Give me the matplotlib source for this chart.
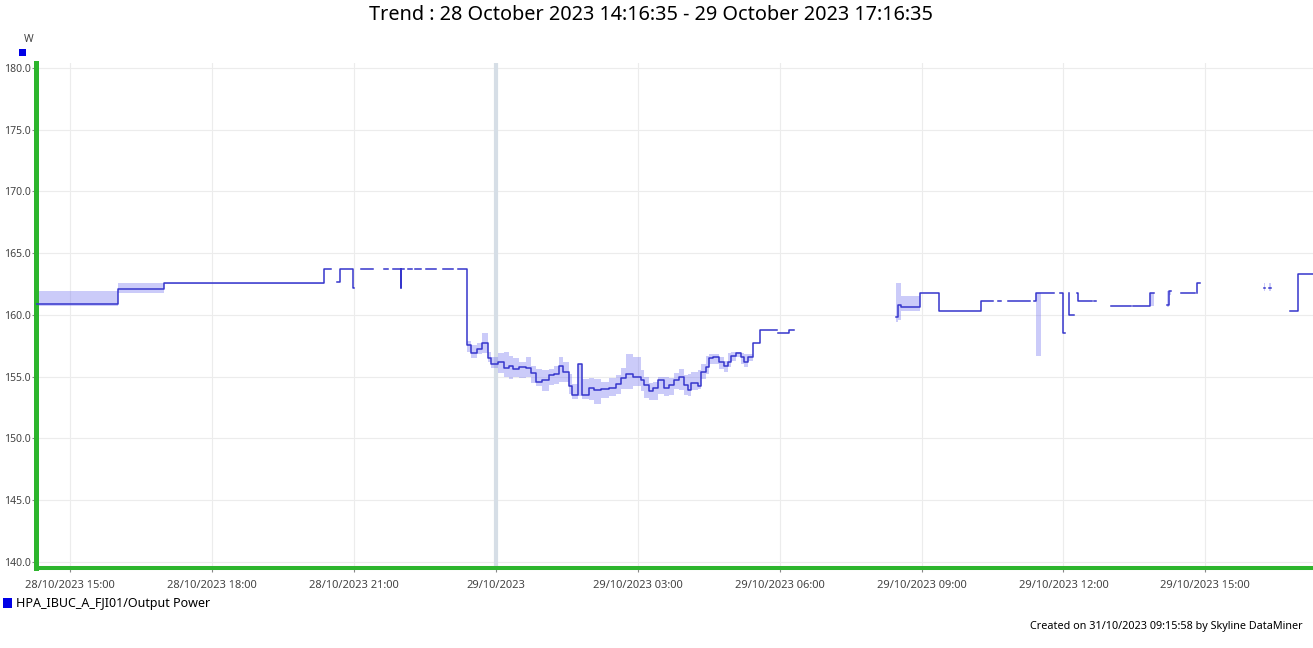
import datetime as dt
import matplotlib
matplotlib.use("Agg")
import matplotlib.pyplot as plt
import matplotlib.dates as mdates
from matplotlib.patches import Rectangle
from matplotlib.ticker import FuncFormatter, FormatStrFormatter
import numpy as np

plt.rcParams['font.family'] = ['Noto Sans', 'DejaVu Sans']

nan = np.nan

# hours since 28/10/2023 00:00, nan entries mark the start of a gap in the trend
hours = [14.28, 16.01, 16.99, 20.37, 20.51, 20.64, 20.70, 20.97, 21.00, 21.15,
         21.40, 21.63, 21.72, 21.82, 21.99, 22.00, 22.05, 22.14, 22.22, 22.30,
         22.42, 22.52, 22.73, 22.88, 23.09, 23.20,
         23.39, 23.47, 23.60, 23.70, 23.83, 23.90, 24.04, 24.17, 24.28, 24.36,
         24.49, 24.63, 24.74, 24.85, 24.97, 25.12, 25.23, 25.33, 25.42, 25.54,
         25.61, 25.73, 25.82, 25.97, 26.07, 26.22, 26.39, 26.54, 26.64, 26.75,
         26.90, 27.06, 27.13, 27.23, 27.32, 27.42, 27.55, 27.66, 27.76, 27.87,
         27.97, 28.06, 28.12, 28.27, 28.33, 28.44, 28.50, 28.59, 28.71, 28.82,
         28.90, 28.97, 29.07, 29.18, 29.24, 29.33, 29.43, 29.58, 29.94, 29.96,
         30.19, 30.30,
         32.45, 32.50, 32.56, 32.96, 33.36, 34.25, 34.52, 34.61, 34.67, 34.82,
         35.30, 35.37, 35.41, 35.52, 35.79, 35.93, 35.98, 36.03, 36.11, 36.12,
         36.23, 36.29, 36.31, 36.61, 36.65, 36.69, 37.00, 37.43, 37.47, 37.84,
         37.92, 38.18, 38.23, 38.27, 38.49, 38.79, 38.82, 38.83, 38.88, 40.23,
         40.26, 40.35, 40.38, 40.80, 40.95, 41.27]

power = [160.9, 162.1, 162.57, 163.7, nan, 162.7, 163.7, 162.2, nan, 163.7,
         nan, 163.7, nan, 163.7, 162.2, 163.7, nan, 163.7, nan, 163.7,
         nan, 163.7, nan, 163.7, nan, 163.7,
         157.6, 156.9, 157.2, 157.7, 156.5, 156.0, 156.2, 155.7, 155.9, 155.6,
         155.8, 155.7, 155.3, 154.6, 154.7, 155.1, 155.2, 155.9, 155.4, 154.2,
         153.5, 156.0, 153.5, 154.1, 153.9, 154.0, 154.1, 154.4, 154.9, 155.2,
         155.0, 154.7, 154.3, 153.8, 154.1, 154.7, 154.1, 154.3, 154.7, 155.0,
         154.3, 153.9, 154.5, 154.2, 155.4, 155.8, 156.5, 156.6, 156.2, 155.9,
         156.2, 156.7, 156.9, 156.6, 156.2, 156.6, 157.7, 158.8, nan, 158.5,
         158.8, nan,
         159.8, 160.8, 160.6, 161.8, 160.3, 161.1, nan, 161.1, nan, 161.1,
         nan, 161.1, 161.8, 161.8, nan, 161.8, 158.5, nan, 161.8, 160.0,
         nan, 161.8, 161.1, nan, 161.1, nan, 160.7, nan, 160.7, 161.8,
         nan, 160.8, 161.9, nan, 161.8, nan, 161.8, 162.6, nan, 162.2,
         nan, 162.2, nan, 160.3, 163.3, nan]

power_min = [160.7, 161.8, 162.5, 163.7, nan, 162.7, 163.7, 162.2, nan, 163.7,
             nan, 163.7, nan, 163.7, 162.2, 163.7, nan, 163.7, nan, 163.7,
             nan, 163.7, nan, 163.7, nan, 163.7,
             157.0, 156.5, 156.8, 156.9, 156.2, 155.7, 155.3, 155.0, 154.8, 155.0,
             154.9, 155.0, 154.5, 154.2, 153.8, 154.3, 154.4, 154.6, 154.6, 153.6,
             153.2, 153.4, 153.2, 153.1, 152.8, 153.3, 153.4, 153.6, 154.0, 154.0,
             154.2, 153.8, 153.3, 153.1, 153.1, 153.6, 153.4, 153.5, 154.0, 153.9,
             153.5, 153.4, 153.9, 154.0, 154.8, 155.2, 156.0, 156.0, 155.6, 155.4,
             155.8, 156.3, 156.6, 156.0, 155.8, 156.3, 157.7, 158.8, nan, 158.5,
             158.8, nan,
             159.4, 159.6, 160.3, 161.8, 160.3, 161.1, nan, 161.1, nan, 161.1,
             nan, 161.1, 156.7, 161.8, nan, 161.8, 158.5, nan, 161.8, 160.0,
             nan, 161.8, 161.1, nan, 161.1, nan, 160.7, nan, 160.7, 160.7,
             nan, 160.6, 161.6, nan, 161.8, nan, 161.8, 162.6, nan, 161.9,
             nan, 161.9, nan, 160.3, 163.3, nan]

power_max = [161.9, 162.6, 162.6, 163.7, nan, 162.7, 163.7, 162.2, nan, 163.7,
             nan, 163.7, nan, 163.7, 162.2, 163.7, nan, 163.7, nan, 163.7,
             nan, 163.7, nan, 163.7, nan, 163.7,
             157.9, 157.6, 157.7, 158.5, 157.0, 156.6, 156.9, 157.0, 156.7, 156.5,
             156.2, 156.6, 155.9, 155.6, 155.5, 155.6, 155.9, 156.6, 156.2, 155.2,
             154.4, 156.0, 154.8, 154.9, 154.8, 154.6, 154.9, 155.1, 155.7, 156.8,
             156.6, 155.5, 155.0, 154.5, 154.6, 155.0, 155.0, 154.9, 155.3, 155.6,
             155.1, 155.2, 155.4, 155.5, 156.0, 156.7, 156.8, 156.8, 156.6, 156.3,
             156.9, 157.0, 157.0, 156.9, 156.8, 156.8, 157.7, 158.8, nan, 158.5,
             158.8, nan,
             162.6, 162.6, 161.5, 161.8, 160.3, 161.1, nan, 161.1, nan, 161.1,
             nan, 161.1, 161.8, 161.8, nan, 161.8, 158.5, nan, 161.8, 160.0,
             nan, 161.8, 161.1, nan, 161.1, nan, 160.7, nan, 160.7, 161.8,
             nan, 161.9, 161.9, nan, 161.8, nan, 161.8, 162.6, nan, 162.6,
             nan, 162.6, nan, 160.3, 163.3, nan]

yticks = [140, 145, 150, 155, 160, 165, 170, 175, 180]
title = "Trend : 28 October 2023 14:16:35 - 29 October 2023 17:16:35"
series_name = "HPA_IBUC_A_FJI01/Output Power"
footer = "Created on 31/10/2023 09:15:58 by Skyline DataMiner"

base = dt.datetime(2023, 10, 28)
t0 = mdates.date2num(base)
t = t0 + np.array(hours) / 24.0
v = np.array(power)
lo = np.array(power_min)
hi = np.array(power_max)


def step_xy(x, y):
    # post-step outline: (x0,y0),(x1,y0),(x1,y1),(x2,y1)...
    return np.repeat(x, 2)[1:-1], np.repeat(y, 2)[:-2]


W, H = 1313, 648
fig = plt.figure(figsize=(W / 100, H / 100), dpi=100)
ax = fig.add_axes([36 / W, 1 - 568 / H, 1 - 36 / W, (568 - 63) / H])

green = '#2db52d'
for s in ['top', 'right']:
    ax.spines[s].set_visible(False)
ax.spines['left'].set_color(green)
ax.spines['left'].set_linewidth(3.6)
ax.spines['bottom'].set_color(green)
ax.spines['bottom'].set_linewidth(2.9)

ax.grid(True, color='#ececec', linewidth=0.8)
ax.set_axisbelow(True)

midnight = t0 + 1.0
ax.axvline(midnight, color='#d6dee6', linewidth=3, zorder=1)

xs, ylo = step_xy(t, lo)
_, yhi = step_xy(t, hi)
ax.fill_between(xs, ylo, yhi, color='#6b6bf0', alpha=0.35, linewidth=0, zorder=2)
xs, yv = step_xy(t, v)
ax.plot(xs, yv, color='#3636cc', linewidth=1.1, zorder=3)

ax.set_xlim(t0 + (14 + 16 / 60 + 35 / 3600) / 24, t0 + (41 + 16 / 60 + 35 / 3600) / 24)
ax.set_ylim(139.5, 180.4)

ax.set_yticks(yticks)
ax.yaxis.set_major_formatter(FormatStrFormatter('%.1f'))
ax.xaxis.set_major_locator(mdates.HourLocator(byhour=range(0, 24, 3)))


def fmt_time(x, pos):
    d = mdates.num2date(x)
    if d.hour == 0 and d.minute == 0:
        return d.strftime('%d/%m/%Y')
    return d.strftime('%d/%m/%Y %H:%M')


ax.xaxis.set_major_formatter(FuncFormatter(fmt_time))
ax.tick_params(axis='both', colors='#888888', labelcolor='#444444', length=3, width=0.8)
ax.tick_params(axis='x', labelsize=8, pad=6)
ax.tick_params(axis='y', labelsize=7.5, pad=1)

fig.text(651 / W, 1 - 15 / H, title, ha='center', va='center', fontsize=14.3, color='black')
fig.text(29 / W, 1 - 39 / H, "W", ha='center', va='center', fontsize=7.5, color='#444444')
fig.add_artist(Rectangle((19 / W, 1 - 56 / H), 7 / W, 7 / H, transform=fig.transFigure,
                         facecolor='#0000e6', edgecolor='none'))
fig.add_artist(Rectangle((3 / W, 1 - 608 / H), 9 / W, 10 / H, transform=fig.transFigure,
                         facecolor='#0000e6', edgecolor='none'))
fig.text(16 / W, 1 - 603 / H, series_name, ha='left', va='center', fontsize=9, color='black')
fig.text(1303 / W, 1 - 626 / H, footer, ha='right', va='center', fontsize=7.8, color='black')

fig.savefig('out.png', dpi=100)
